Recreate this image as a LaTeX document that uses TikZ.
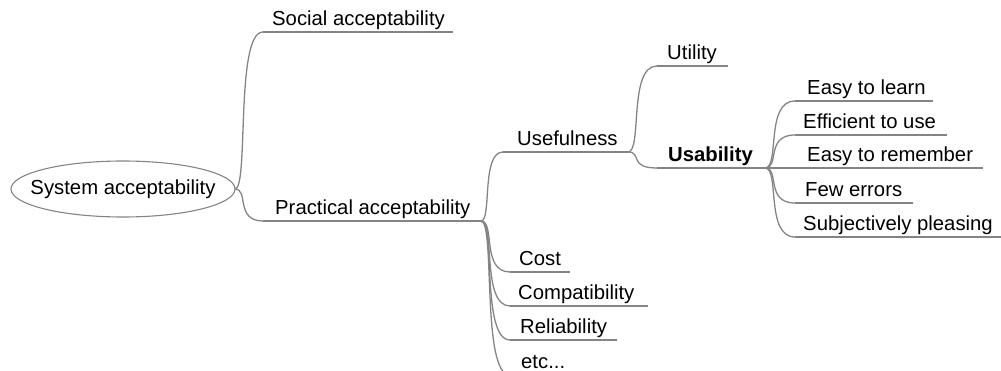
\documentclass[tikz,border=0pt]{standalone}
\usepackage{fontspec}
\setmainfont{Liberation Sans}
\usetikzlibrary{calc}
\definecolor{edgegray}{RGB}{132,132,132}
\newcommand\mmedge[2]{\draw[edge] (#1) .. controls ($(#1)!0.5!(#1 -| #2)$) and (#1 |- #2) .. (#2);}
\begin{document}
\begin{tikzpicture}[x=1pt,y=-1pt,
  edge/.style={draw=edgegray,line width=1.3pt},
  lbl/.style={anchor=base west,inner sep=0pt,font=\fontsize{20.3}{24}\selectfont},
  roottext/.style={inner sep=0pt,font=\fontsize{20.3}{24}\selectfont}]
\useasboundingbox (0,0) rectangle (1001,371);
\draw[draw=edgegray,line width=1.1pt] (123,189) ellipse [x radius=112, y radius=28];
\node[roottext] (sys) at (123,189) {System acceptability};
\coordinate (sys-e) at (235,189);
% labels
\node[lbl] (soc) at (272,26) {Social acceptability};
\node[lbl] (pra) at (275,215) {Practical acceptability};
\node[lbl] (usef) at (517,146) {Usefulness};
\node[lbl] (uti) at (667,60) {Utility};
\node[lbl,font=\fontsize{20.3}{24}\selectfont\bfseries] (usa) at (668,162) {Usability};
\node[lbl] (eal) at (807,95) {Easy to learn};
\node[lbl] (eff) at (803,129) {Efficient to use};
\node[lbl] (ear) at (807,162) {Easy to remember};
\node[lbl] (few) at (805,197) {Few errors};
\node[lbl] (sub) at (803,231) {Subjectively pleasing};
\node[lbl] (cost) at (519,266) {Cost};
\node[lbl] (comp) at (518,300) {Compatibility};
\node[lbl] (rel) at (520,334) {Reliability};
\node[lbl] (etc) at (521,368) {etc...};
% underline coordinates
\coordinate (soc-s) at (263,32);  \coordinate (soc-e) at (453,32);
\coordinate (pra-s) at (263,221); \coordinate (pra-e) at (481,221);
\coordinate (usef-s) at (503,152); \coordinate (usef-e) at (628,152);
\coordinate (uti-s) at (657,66);  \coordinate (uti-e) at (728,66);
\coordinate (usa-s) at (657,168); \coordinate (usa-e) at (765,168);
\coordinate (eal-s) at (795,101); \coordinate (eal-e) at (933,101);
\coordinate (eff-s) at (795,135); \coordinate (eff-e) at (947,135);
\coordinate (ear-s) at (795,168); \coordinate (ear-e) at (983,168);
\coordinate (few-s) at (795,203); \coordinate (few-e) at (913,203);
\coordinate (sub-s) at (795,237); \coordinate (sub-e) at (1001,237);
\coordinate (cost-s) at (510,272); \coordinate (cost-e) at (570,272);
\coordinate (comp-s) at (510,306); \coordinate (comp-e) at (648,306);
\coordinate (rel-s) at (510,340); \coordinate (rel-e) at (617,340);
\coordinate (etc-s) at (510,375); \coordinate (etc-e) at (570,375);
% underlines
\foreach \n in {soc,pra,usef,uti,usa,eal,eff,ear,few,sub,cost,comp,rel,etc}
  {\draw[edge] (\n-s) -- (\n-e);}
% connectors
\mmedge{sys-e}{soc-s}
\mmedge{sys-e}{pra-s}
\mmedge{pra-e}{usef-s}
\mmedge{usef-e}{uti-s}
\mmedge{usef-e}{usa-s}
\mmedge{usa-e}{eal-s}
\mmedge{usa-e}{eff-s}
\mmedge{usa-e}{ear-s}
\mmedge{usa-e}{few-s}
\mmedge{usa-e}{sub-s}
\mmedge{pra-e}{cost-s}
\mmedge{pra-e}{comp-s}
\mmedge{pra-e}{rel-s}
\mmedge{pra-e}{etc-s}
\end{tikzpicture}
\end{document}
